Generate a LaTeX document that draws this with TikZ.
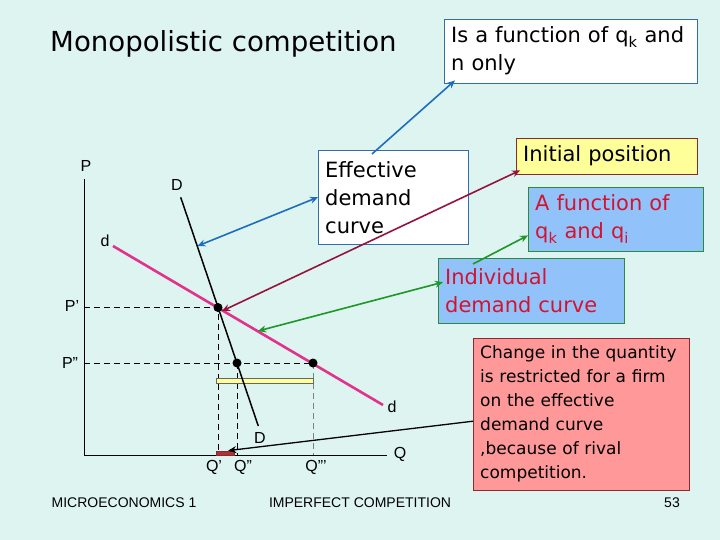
\documentclass[tikz,border=0pt]{standalone}
\usepackage{fontspec}
\setmainfont{DejaVu Sans}
\newfontfamily\arialfont{Liberation Sans}
\usetikzlibrary{arrows.meta}

\definecolor{bgcol}{RGB}{221,244,240}
\definecolor{bluearr}{RGB}{30,110,190}
\definecolor{redarr}{RGB}{150,20,60}
\definecolor{greenarr}{RGB}{30,150,40}
\definecolor{dcurve}{RGB}{225,50,140}
\definecolor{bordblue}{RGB}{50,110,170}
\definecolor{bordred}{RGB}{140,40,50}
\definecolor{bordgreen}{RGB}{40,140,60}
\definecolor{txtred}{RGB}{210,20,50}
\definecolor{fillblue}{RGB}{145,195,250}
\definecolor{fillyel}{RGB}{255,255,153}
\definecolor{fillpink}{RGB}{255,153,153}

\tikzset{
	box/.style={draw, anchor=north west, align=left, inner xsep=7pt, inner ysep=0pt,
		font=\fontsize{21}{28}\selectfont},
	lbl/.style={font=\arialfont\fontsize{16}{18}\selectfont, inner sep=0pt},
	foot/.style={font=\arialfont\fontsize{14}{16}\selectfont, inner sep=0pt},
	arr/.style={line width=1.6pt, -{Stealth[length=8pt,width=7pt]}},
	arrboth/.style={arr, {Stealth[length=8pt,width=7pt]}-{Stealth[length=8pt,width=7pt]}},
	guide/.style={dash pattern=on 6pt off 4pt, line width=0.9pt}
}

\begin{document}
\begin{tikzpicture}[x=1pt,y=-1pt]
	\fill[bgcol] (0,0) rectangle (720,540);

	\node[anchor=base west, inner sep=0pt, font=\fontsize{27.6}{33}\selectfont] (title) at (50,52) {Monopolistic competition};

	% graph
	\coordinate (pA) at (218,307.5);
	\coordinate (pB) at (237,363);
	\coordinate (pC) at (313,363);
	\coordinate (dmid) at (197.5,246);
	\coordinate (dgreen) at (258,331);

	\draw[guide] (84,307.5) -- (pA) -- (218,455);
	\draw[guide] (84,363) -- (pC);
	\draw[guide] (pB) -- (237,455);
	\draw[guide, gray, line width=0.6pt] (pC) -- (313,455);
	\draw[fill=fillyel, draw=black!60, line width=0.8pt] (216,378) rectangle (313,383);

	\draw[line width=1pt] (84,179) -- (84,455) -- (387,455);
	\draw[line width=1.5pt] (180.7,197.3) -- (258.3,426);
	\draw[dcurve, line width=2.6pt] (113,246) -- (383,405);
	\foreach \p in {pA,pB,pC}
		\fill (\p) circle (4.5);
	\node[draw=bordred, fill=red!60!black!80, minimum width=18pt, minimum height=4pt,
		inner sep=0pt, anchor=south west] (gap) at (216,455) {};

	\node[lbl] (plbl) at (86,166) {P};
	\node[lbl] (qlbl) at (400,454) {Q};
	\node[lbl] (Dtop) at (177,185) {D};
	\node[lbl] (Dbot) at (260,438) {D};
	\node[lbl] (dleft) at (105,241) {d};
	\node[lbl] (dright) at (392,407) {d};
	\node[lbl] (p1) at (72,306) {P’};
	\node[lbl] (p2) at (70,363) {P”};
	\node[lbl] (q1) at (214,467) {Q’};
	\node[lbl] (q2) at (243,467) {Q”};
	\node[lbl] (q3) at (316,467) {Q”’};

	% boxes
	\node[box, draw=bordblue, fill=white, text width=239pt, minimum height=64pt] (isfun) at (444,19)
		{Is a function of q\textsubscript{k} and\\n only};
	\node[box, draw=bordblue, fill=white, text width=136pt, minimum height=94pt] (effbox) at (318,150)
		{Effective\\demand\\curve};
	\node[box, draw=bordred, fill=fillyel, text width=167pt, minimum height=36pt] (initbox) at (516,138)
		{Initial position};
	\node[box, draw=bordgreen, fill=fillblue, text=txtred, text width=161pt, minimum height=64pt] (afunbox) at (528,187)
		{A function of\\q\textsubscript{k} and q\textsubscript{i}};
	\node[box, draw=bordgreen, fill=fillblue, text=txtred, text width=172pt, minimum height=65pt] (indbox) at (438,258)
		{Individual\\demand curve};
	\node[box, draw=bordred, fill=fillpink, text width=202pt, minimum height=152pt,
		font=\fontsize{17}{24}\selectfont] (chgbox) at (473,338)
		{Change in the quantity\\is restricted for a firm\\on the effective\\demand curve\\,because of rival\\competition.};

	% connectors
	\draw[arr, bluearr] ([xshift=54pt,yshift=-4pt]effbox.north west) -- ([xshift=11pt,yshift=3pt]isfun.south west);
	\draw[arrboth, bluearr] (dmid) -- (effbox.west);
	\draw[arrboth, redarr] ([xshift=4pt,yshift=4pt]initbox.south west) -- ([xshift=4pt,yshift=-3.5pt]pA);
	\draw[arrboth, greenarr] ([xshift=5pt,yshift=8.5pt]indbox.west) -- (dgreen);
	\draw[arr, greenarr] ([xshift=35pt,yshift=-6pt]indbox.north west) -- ([yshift=16pt]afunbox.south west);
	\draw[arr, line width=1.3pt] ([yshift=-7pt]chgbox.west) -- ([xshift=3pt]gap.north);

	\node[foot] (ftl) at (124,503) {MICROECONOMICS 1};
	\node[foot] (ftm) at (360,503) {IMPERFECT COMPETITION};
	\node[foot] (ftr) at (672,503) {53};
\end{tikzpicture}
\end{document}
